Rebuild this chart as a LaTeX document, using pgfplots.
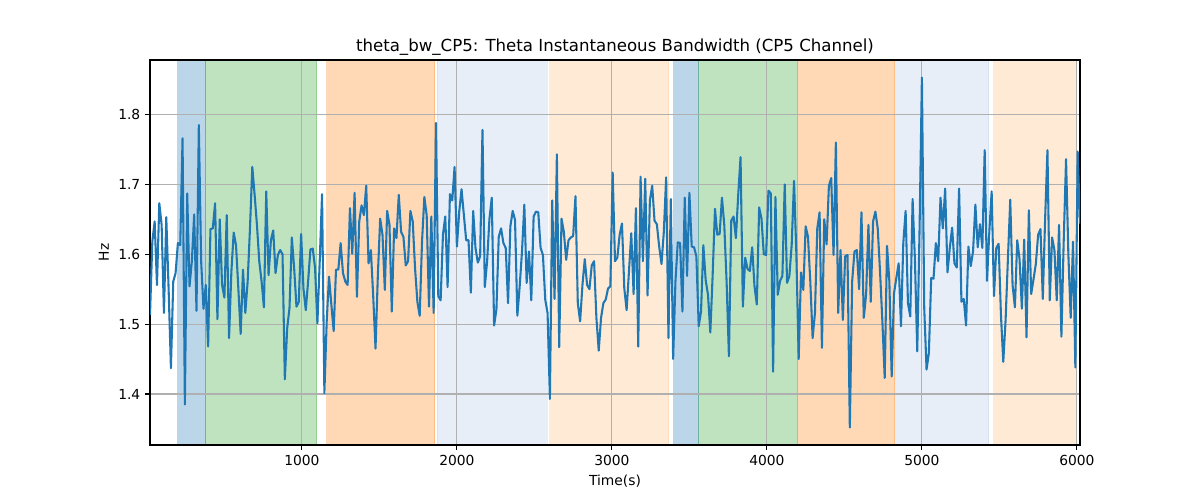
\documentclass[border=0pt]{standalone}
\usepackage{pgfplots}
\pgfplotsset{compat=1.18}
\usepackage{fontspec}
\setmainfont{DejaVu Sans}
\definecolor{tabblue}{HTML}{1F77B4}
\definecolor{tabgreen}{HTML}{2CA02C}
\definecolor{taborange}{HTML}{FF7F0E}
\definecolor{lblue}{HTML}{AEC7E8}
\definecolor{lorange}{HTML}{FFBB78}
\definecolor{gridgray}{HTML}{B0B0B0}
\begin{document}
\begin{tikzpicture}
\begin{axis}[
  set layers,
  scale only axis, width=9.3in, height=3.85in,
  xmin=20, xmax=6020, ymin=1.327, ymax=1.878,
  xtick={1000,2000,3000,4000,5000,6000},
  ytick={1.4,1.5,1.6,1.7,1.8},
  yticklabel style={/pgf/number format/.cd, fixed, fixed zerofill, precision=1},
  /pgf/number format/1000 sep={},
  /pgf/number format/assume math mode=true,
  ticklabel style={font=\fontsize{10}{12}\selectfont},
  label style={font=\fontsize{10}{12}\selectfont},
  title style={font=\fontsize{12}{14}\selectfont, yshift=-6.5pt},
  title={theta\_bw\_CP5: Theta Instantaneous Bandwidth (CP5 Channel)},
  xlabel={Time(s)}, ylabel={Hz},
  xmajorgrids, ymajorgrids,
  grid style={gridgray, line width=0.8pt},
  axis line style={line width=0.8pt},
  tick align=outside, major tick length=3.5pt,
  tick style={black, line width=0.8pt},
  xtick pos=bottom, ytick pos=left,
  clip=true,
]
\pgfplotsset{spanstyle/.style={on layer=axis background, fill=#1, fill opacity=0.3, draw=#1, draw opacity=0.3, line width=0.75pt, forget plot}}
\addplot[spanstyle=tabblue] coordinates {(200,1.327) (200,1.878) (380,1.878) (380,1.327)} -- cycle;
\addplot[spanstyle=tabgreen] coordinates {(380,1.327) (380,1.878) (1095,1.878) (1095,1.327)} -- cycle;
\addplot[spanstyle=taborange] coordinates {(1160,1.327) (1160,1.878) (1858,1.878) (1858,1.327)} -- cycle;
\addplot[spanstyle=lblue] coordinates {(1872,1.327) (1872,1.878) (2582,1.878) (2582,1.327)} -- cycle;
\addplot[spanstyle=lorange] coordinates {(2598,1.327) (2598,1.878) (3368,1.878) (3368,1.327)} -- cycle;
\addplot[spanstyle=tabblue] coordinates {(3400,1.327) (3400,1.878) (3560,1.878) (3560,1.327)} -- cycle;
\addplot[spanstyle=tabgreen] coordinates {(3560,1.327) (3560,1.878) (4198,1.878) (4198,1.327)} -- cycle;
\addplot[spanstyle=taborange] coordinates {(4206,1.327) (4206,1.878) (4826,1.878) (4826,1.327)} -- cycle;
\addplot[spanstyle=lblue] coordinates {(4832,1.327) (4832,1.878) (5432,1.878) (5432,1.327)} -- cycle;
\addplot[spanstyle=lorange] coordinates {(5465,1.327) (5465,1.878) (6000,1.878) (6000,1.327)} -- cycle;
\addplot[tabblue, line width=1.5pt, mark=none, line join=round] coordinates {
(20,1.513) (35,1.618) (50,1.647) (65,1.556) (80,1.673) (95,1.642) (110,1.516) (125,1.653) (140,1.551) (155,1.437)
(170,1.561) (185,1.573) (200,1.616) (215,1.613) (230,1.766) (245,1.385) (260,1.687) (275,1.554) (290,1.590) (305,1.657)
(320,1.519) (335,1.785) (350,1.590) (365,1.522) (380,1.556) (395,1.468) (410,1.636) (425,1.637) (440,1.673) (455,1.507)
(470,1.650) (485,1.556) (500,1.538) (515,1.656) (530,1.480) (545,1.575) (560,1.631) (575,1.613) (590,1.551) (605,1.486)
(620,1.578) (635,1.516) (650,1.561) (665,1.637) (680,1.725) (695,1.685) (710,1.642) (725,1.590) (740,1.561) (755,1.524)
(770,1.690) (785,1.570) (800,1.620) (815,1.634) (830,1.573) (845,1.599) (860,1.606) (875,1.600) (890,1.421) (905,1.494)
(920,1.523) (935,1.624) (950,1.580) (965,1.525) (980,1.532) (995,1.629) (1010,1.551) (1025,1.520) (1040,1.561) (1055,1.607)
(1070,1.608) (1085,1.580) (1100,1.501) (1115,1.590) (1130,1.686) (1145,1.401) (1160,1.504) (1175,1.568) (1190,1.528) (1205,1.490)
(1220,1.578) (1235,1.578) (1250,1.616) (1265,1.573) (1280,1.561) (1295,1.556) (1310,1.666) (1325,1.601) (1340,1.688) (1355,1.539)
(1370,1.647) (1385,1.670) (1400,1.656) (1415,1.698) (1430,1.587) (1445,1.606) (1460,1.540) (1475,1.465) (1490,1.570) (1505,1.651)
(1520,1.628) (1535,1.549)
(1550,1.662) (1565,1.642) (1580,1.518) (1595,1.637) (1610,1.623) (1625,1.685) (1640,1.632) (1655,1.625) (1670,1.584) (1685,1.590)
(1700,1.662) (1715,1.647) (1730,1.580) (1745,1.532) (1760,1.512) (1775,1.618) (1790,1.682) (1805,1.656) (1820,1.525) (1835,1.654)
(1850,1.516) (1865,1.788) (1880,1.540) (1895,1.534) (1910,1.628) (1925,1.654) (1940,1.553) (1955,1.686) (1970,1.677) (1985,1.725)
(2000,1.611) (2015,1.661) (2030,1.693) (2045,1.656) (2060,1.620) (2075,1.620) (2090,1.545) (2105,1.662) (2120,1.609) (2135,1.588)
(2150,1.597) (2165,1.778) (2180,1.553) (2195,1.590) (2210,1.651) (2225,1.681) (2240,1.498) (2255,1.521) (2270,1.625) (2285,1.637)
(2300,1.616) (2315,1.609) (2330,1.530) (2345,1.640) (2360,1.662) (2375,1.649) (2390,1.512) (2405,1.554) (2420,1.604) (2435,1.671)
(2450,1.559) (2465,1.604) (2480,1.534) (2495,1.654) (2510,1.661) (2525,1.660) (2540,1.609) (2555,1.599) (2570,1.535) (2585,1.516)
(2600,1.393) (2615,1.677) (2630,1.536) (2645,1.743) (2660,1.467) (2675,1.651) (2690,1.632) (2705,1.592) (2720,1.620) (2735,1.624)
(2750,1.626) (2765,1.683) (2780,1.530) (2795,1.504) (2810,1.556) (2825,1.593) (2840,1.556) (2855,1.550) (2870,1.584) (2885,1.590)
(2900,1.509) (2915,1.462) (2930,1.509) (2945,1.530) (2960,1.535) (2975,1.551) (2990,1.554) (3005,1.717)
(3020,1.590) (3035,1.595) (3050,1.628) (3065,1.644) (3080,1.551) (3095,1.520) (3110,1.575) (3125,1.630) (3140,1.543) (3155,1.666)
(3170,1.468) (3185,1.711) (3200,1.590) (3215,1.708) (3230,1.541) (3245,1.677) (3260,1.698) (3275,1.648) (3290,1.643) (3305,1.611)
(3320,1.586) (3335,1.632) (3350,1.710) (3365,1.480) (3380,1.679) (3395,1.450) (3410,1.561) (3425,1.617) (3440,1.616) (3455,1.518)
(3470,1.681) (3485,1.569) (3500,1.688) (3515,1.611) (3530,1.610) (3545,1.597) (3560,1.497) (3575,1.518) (3590,1.613) (3605,1.563)
(3620,1.542) (3635,1.488) (3650,1.570) (3665,1.665) (3680,1.628) (3695,1.629) (3710,1.681) (3725,1.642) (3740,1.561) (3755,1.454)
(3770,1.648) (3785,1.654) (3800,1.623) (3815,1.685) (3830,1.739) (3845,1.525) (3860,1.595) (3875,1.579) (3890,1.576) (3905,1.610)
(3920,1.554) (3935,1.528) (3950,1.667) (3965,1.651) (3980,1.600) (3995,1.599) (4010,1.691) (4025,1.687) (4040,1.432) (4055,1.682)
(4070,1.542) (4085,1.562) (4100,1.569) (4115,1.700) (4130,1.559) (4145,1.569) (4160,1.614) (4175,1.705) (4190,1.601) (4205,1.450)
(4220,1.574) (4235,1.549) (4250,1.640) (4265,1.625) (4280,1.561) (4295,1.480) (4310,1.516) (4325,1.637) (4340,1.660) (4355,1.466)
(4370,1.650) (4385,1.614) (4400,1.698) (4415,1.709) (4430,1.599) (4445,1.760) (4460,1.516) (4475,1.606) (4490,1.506)
(4505,1.597) (4520,1.599) (4535,1.352) (4550,1.561) (4565,1.604) (4580,1.606) (4595,1.550) (4610,1.660) (4625,1.509) (4640,1.542)
(4655,1.642) (4670,1.532) (4685,1.647) (4700,1.661) (4715,1.637) (4730,1.575) (4745,1.504) (4760,1.423) (4775,1.612) (4790,1.561)
(4805,1.425) (4820,1.544) (4835,1.566) (4850,1.587) (4865,1.497) (4880,1.616) (4895,1.662) (4910,1.530) (4925,1.511) (4940,1.679)
(4955,1.592) (4970,1.461) (4985,1.637) (5000,1.853) (5015,1.523) (5030,1.435) (5045,1.459) (5060,1.566) (5075,1.565) (5090,1.616)
(5105,1.590) (5120,1.681) (5135,1.637) (5150,1.694) (5165,1.574) (5180,1.609) (5195,1.638) (5210,1.587) (5225,1.581) (5240,1.694)
(5255,1.532) (5270,1.536) (5285,1.498) (5300,1.611) (5315,1.583) (5330,1.604) (5345,1.671) (5360,1.610) (5375,1.643) (5390,1.609)
(5405,1.749) (5420,1.562) (5435,1.632) (5450,1.690) (5465,1.540) (5480,1.609) (5495,1.615) (5510,1.513) (5525,1.446) (5540,1.506)
(5555,1.594) (5570,1.678) (5585,1.556) (5600,1.524) (5615,1.620) (5630,1.593) (5645,1.522) (5660,1.621) (5675,1.481) (5690,1.663)
(5705,1.543) (5720,1.564) (5735,1.586) (5750,1.628) (5765,1.636) (5780,1.536) (5795,1.651) (5810,1.749) (5825,1.534) (5840,1.624)
(5855,1.606) (5870,1.534) (5885,1.642) (5900,1.482) (5915,1.620) (5930,1.736) (5945,1.599) (5960,1.509) (5975,1.618) (5990,1.438)
(6005,1.747) (6020,1.644)
};
\end{axis}
\path (current axis.south west) ++(-1.5in,-0.55in) rectangle ++(12in,5in);
\end{tikzpicture}
\end{document}
